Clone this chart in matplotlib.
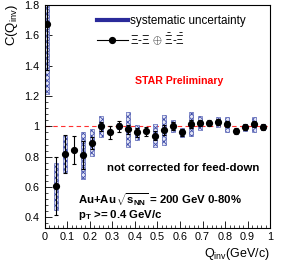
import numpy as np
import matplotlib.pyplot as plt
from matplotlib.lines import Line2D

plt.rcParams['font.family'] = ['Liberation Sans', 'DejaVu Sans']
plt.rcParams['mathtext.fontset'] = 'custom'
plt.rcParams['mathtext.rm'] = 'Liberation Sans'
plt.rcParams['mathtext.it'] = 'Liberation Sans:italic'
plt.rcParams['mathtext.bf'] = 'Liberation Sans:bold'
plt.rcParams['hatch.linewidth'] = 0.6

# data
qinv = [0.01, 0.05, 0.09, 0.13, 0.17, 0.21, 0.25, 0.29, 0.33, 0.37, 0.41, 0.45, 0.49,
        0.53, 0.57, 0.61, 0.65, 0.69, 0.73, 0.77, 0.81, 0.85, 0.89, 0.93, 0.97]
corr = [1.673, 0.606, 0.817, 0.844, 0.811, 0.892, 1.0, 0.96, 1.0, 0.98, 0.96, 0.969, 0.938,
        0.976, 1.004, 0.96, 1.015, 1.024, 1.02, 1.03, 1.015, 0.971, 0.993, 1.015, 0.997]
stat = [0.30, 0.19, 0.127, 0.09, 0.09, 0.04, 0.03, 0.04, 0.035, 0.03, 0.03, 0.03, 0.03,
        0.03, 0.025, 0.025, 0.025, 0.02, 0.02, 0.02, 0.02, 0.02, 0.02, 0.02, 0.02]
sys = [0.46, 0.155, 0.12, 0.0, 0.155, 0.09, 0.07, 0.0, 0.02, 0.115, 0.05, 0.0, 0.077,
       0.10, 0.04, 0.03, 0.08, 0.045, 0.0, 0.035, 0.05, 0.0, 0.025, 0.05, 0.02]

qinv = np.array(qinv)
corr = np.array(corr)
stat = np.array(stat)
sys = np.array(sys)

fig = plt.figure(figsize=(2.84, 2.67), dpi=100)
ax = fig.add_axes([0.158, 0.146, 0.793, 0.835])

# systematic boxes (skip points without a box)
m = sys > 0
ax.bar(qinv[m], 2 * sys[m], bottom=corr[m] - sys[m], width=0.018, facecolor='#e4e6f6',
       edgecolor='#3a48a8', hatch='xxxxxx', linewidth=0.4, zorder=2)

ax.axhline(1.0, color='#ff3030', ls=(0, (4, 3)), lw=0.8, zorder=1)

ax.errorbar(qinv, corr, yerr=stat, fmt='o', color='black', ms=4.2,
            elinewidth=0.8, capsize=1.5, capthick=0.8, zorder=3)

ax.set_xlim(0, 1)
ax.set_ylim(0.33, 1.8)
ax.set_xticks(np.arange(0, 1.01, 0.1))
ax.set_xticklabels(['0', '0.1', '0.2', '0.3', '0.4', '0.5', '0.6', '0.7', '0.8', '0.9', '1'])
ax.set_xticks(np.arange(0, 1.0001, 0.02), minor=True)
ax.set_yticks([0.4, 0.6, 0.8, 1.0, 1.2, 1.4, 1.6, 1.8])
ax.set_yticklabels(['0.4', '0.6', '0.8', '1', '1.2', '1.4', '1.6', '1.8'])
ax.set_yticks(np.arange(0.36, 1.801, 0.04), minor=True)
ax.tick_params(which='both', direction='in', top=False, right=False, labelsize=7.8)
ax.tick_params(which='major', length=5, width=0.6)
ax.tick_params(which='minor', length=2.5, width=0.5)
ax.tick_params(axis='x', pad=3)
ax.tick_params(axis='y', pad=4)
for s in ax.spines.values():
    s.set_linewidth(0.8)

# legend
h_sys = Line2D([], [], color='#2a2a9a', lw=3)
h_dat = Line2D([], [], color='black', marker='o', ms=4.2, lw=0.8)
ax.legend([h_sys, h_dat],
          ['systematic uncertainty', r'$\Xi$-$\Xi$ $\oplus$ $\bar{\Xi}$-$\bar{\Xi}$'],
          loc='upper left', bbox_to_anchor=(0.231, 0.955), frameon=False,
          fontsize=8.4, handlelength=2.65, handletextpad=0.2, labelspacing=0.35,
          borderpad=0, borderaxespad=0)

ax.text(0.4, 0.66, 'STAR Preliminary', transform=ax.transAxes, color='red',
        fontsize=7.6, fontweight='bold', va='center')
ax.text(0.275, 0.27, 'not corrected for feed-down', transform=ax.transAxes,
        fontsize=8.2, fontweight='bold', va='center')
ax.text(0.145, 0.128, r'Au+Au$\,\mathbf{\sqrt{s_{NN}}}$ = 200 GeV 0-80%', transform=ax.transAxes,
        fontsize=8.2, fontweight='bold', va='center')
ax.text(0.145, 0.06, r'p$_{\mathbf{T}}$ >= 0.4 GeV/c', transform=ax.transAxes,
        fontsize=8.2, fontweight='bold', va='center')

fig.text(12 / 284, 1 - 4 / 267, r'C(Q$_{\rm inv}$)', rotation=90, ha='center', va='top',
         fontsize=9.5)
fig.text(270 / 284, 1 - 254 / 267, r'Q$_{\rm inv}$(GeV/c)', ha='right', va='center',
         fontsize=9)

fig.savefig('out.png', dpi=100)
